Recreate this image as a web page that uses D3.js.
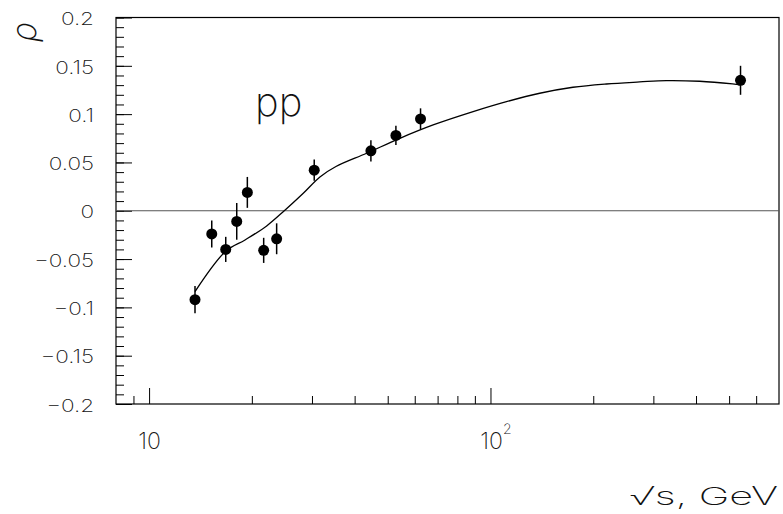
<!DOCTYPE html>
<html>
<head>
<meta charset="utf-8">
<script src="https://cdn.jsdelivr.net/npm/d3@7"></script>
<style>
  body { margin: 0; background: #fff; }
  svg { display: block; }
  text { font-family: Inter, Roboto, sans-serif; font-weight: 200; fill: #111; }
</style>
</head>
<body>
<div id="chart"></div>
<script>
// pp data: sqrt(s) in GeV, rho and its error
var sqrtS = [13.63, 15.26, 16.77, 18.06, 19.40, 21.66, 23.64, 30.46, 44.64, 52.84, 62.39, 540];
var rho   = [-0.092, -0.024, -0.040, -0.011, 0.019, -0.041, -0.029, 0.042, 0.062, 0.078, 0.095, 0.135];
var rhoErr = [0.014, 0.014, 0.013, 0.019, 0.016, 0.013, 0.016, 0.011, 0.011, 0.010, 0.011, 0.015];

// fitted curve
var curveS   = [13.63, 16.80, 19.10, 22.10, 24.89, 28.29, 31.65, 35.27, 43.36, 54.28, 67.92,
                88.94, 111.4, 139.4, 174.4, 218.6, 273.5, 327.4, 409.8, 511.8, 540.1];
var curveRho = [-0.0837, -0.0416, -0.0302, -0.0157, 0, 0.0181, 0.0350, 0.0458, 0.0595, 0.0750, 0.0888,
                0.1026, 0.1129, 0.1216, 0.1278, 0.1312, 0.1333, 0.1347, 0.1340, 0.1312, 0.1302];

var yMajor = [-0.2, -0.15, -0.1, -0.05, 0, 0.05, 0.1, 0.15, 0.2];
var xMajor = [10, 100];
var xMinor = [9, 20, 30, 40, 50, 60, 70, 80, 90, 200, 300, 400, 500, 600];

var width = 783, height = 514;
var padL = 116, padR = 779, padT = 17.5, padB = 404;

var svg = d3.select("#chart").append("svg")
  .attr("width", width)
  .attr("height", height);

var x = d3.scaleLog().domain([8, 700]).range([padL, padR]);
var y = d3.scaleLinear().domain([-0.2, 0.2]).range([padB, padT]);

var yMinor = d3.range(-20, 21).map(function(i) { return i / 100; });

// stretch text horizontally, the original font is wide
function widen(sel, k) {
  sel.each(function() {
    var w = this.getComputedTextLength();
    d3.select(this).attr("textLength", w * k).attr("lengthAdjust", "spacingAndGlyphs");
  });
}

// minor ticks
svg.append("g")
  .attr("transform", "translate(" + padL + ",0)")
  .call(d3.axisLeft(y).tickValues(yMinor).tickSize(-8).tickFormat(""))
  .call(function(g) { g.select(".domain").remove(); });

svg.append("g")
  .attr("transform", "translate(0," + padB + ")")
  .call(d3.axisBottom(x).tickValues(xMinor).tickSize(-8).tickFormat(""))
  .call(function(g) { g.select(".domain").remove(); });

// major ticks with labels
var fmt = d3.format("");
svg.append("g")
  .attr("transform", "translate(" + padL + ",0)")
  .call(d3.axisLeft(y).tickValues(yMajor).tickSize(-16).tickPadding(22)
    .tickFormat(function(d) { return fmt(+d.toFixed(2)); }))
  .call(function(g) {
    g.select(".domain").remove();
    g.selectAll("text").attr("font-size", 18).attr("dy", "0.4em")
      .style("font-family", null)
      .call(widen, 1.25);
  });

svg.append("g")
  .attr("transform", "translate(0," + padB + ")")
  .call(d3.axisBottom(x).tickValues(xMajor).tickSize(-16).tickPadding(29)
    .tickFormat(function(d) { return "10"; }))
  .call(function(g) {
    g.select(".domain").remove();
    g.selectAll("text").attr("font-size", 23).style("font-family", null)
      .each(function(d) {
        if (d === 100) {
          d3.select(this).attr("dx", 5)
            .append("tspan").attr("dy", -15).attr("font-size", 14).text("2");
        }
      });
  });

svg.selectAll(".tick line").attr("stroke", "#000");
svg.selectAll(".tick text").attr("fill", "#111");

// frame
svg.append("rect")
  .attr("x", padL).attr("y", padT)
  .attr("width", padR - padL).attr("height", padB - padT)
  .attr("fill", "none").attr("stroke", "#000").attr("stroke-width", 1.2);

// zero line
svg.append("line")
  .attr("x1", padL).attr("x2", padR)
  .attr("y1", y(0)).attr("y2", y(0))
  .attr("stroke", "#555").attr("stroke-width", 1);

// curve
var line = d3.line()
  .x(function(d, i) { return x(curveS[i]); })
  .y(function(d, i) { return y(curveRho[i]); })
  .curve(d3.curveCatmullRom.alpha(0.5));

svg.append("path")
  .datum(curveS)
  .attr("d", line)
  .attr("fill", "none")
  .attr("stroke", "#000")
  .attr("stroke-width", 1.3);

// error bars and points
var pts = svg.append("g").selectAll("g")
  .data(sqrtS)
  .enter().append("g");

pts.append("line")
  .attr("x1", function(d) { return x(d); })
  .attr("x2", function(d) { return x(d); })
  .attr("y1", function(d, i) { return y(rho[i] - rhoErr[i]); })
  .attr("y2", function(d, i) { return y(rho[i] + rhoErr[i]); })
  .attr("stroke", "#000")
  .attr("stroke-width", 1.5);

pts.append("circle")
  .attr("cx", function(d) { return x(d); })
  .attr("cy", function(d, i) { return y(rho[i]); })
  .attr("r", 5.5)
  .attr("fill", "#000");

// labels
svg.append("text")
  .attr("x", 255).attr("y", 116)
  .attr("font-size", 40)
  .attr("font-weight", 100)
  .text("pp");

svg.append("text")
  .attr("transform", "translate(36,42) rotate(-90)")
  .attr("font-size", 34)
  .attr("font-style", "italic")
  .text("ρ");

svg.append("text")
  .attr("x", 778).attr("y", 505)
  .attr("text-anchor", "end")
  .attr("font-size", 25)
  .attr("textLength", 148)
  .attr("lengthAdjust", "spacingAndGlyphs")
  .text("√s, GeV");
</script>
</body>
</html>
